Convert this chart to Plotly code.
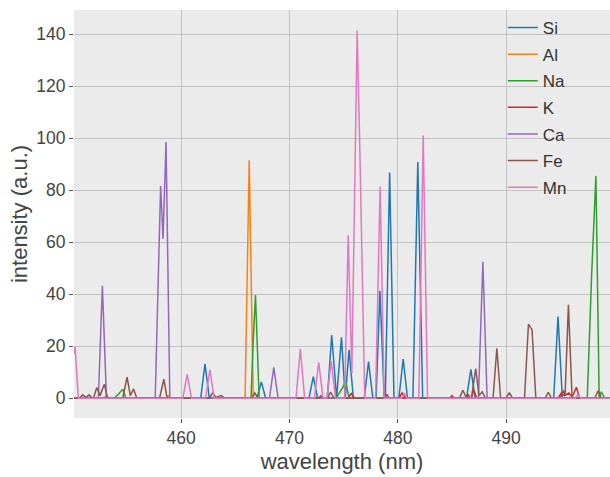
import plotly.graph_objects as go

elements = ["Si", "Al", "Na", "K", "Ca", "Fe", "Mn"]
colors = ["#1f77b4", "#ff7f0e", "#2ca02c", "#d62728", "#9467bd", "#8c564b", "#e377c2"]

# (wavelength nm, intensity a.u.)
si_pts = [(450.1,0),(461.8,0),(462.2,13.2),(462.6,0),
          (467.0,0),(467.4,6.3),(467.8,0),
          (471.8,0),(472.2,8.3),(472.6,0),
          (473.5,0),(473.9,24.3),(474.35,0),(474.8,23.4),(475.15,0),(475.5,18.6),(475.9,0),
          (476.9,0),(477.3,14.1),(477.7,0),
          (478.0,0),(478.35,41.3),(478.75,0),(478.85,0),(479.25,86.8),(479.65,0),
          (480.1,0),(480.5,15.1),(480.9,0),
          (481.4,0),(481.85,90.8),(482.3,0),
          (486.35,0),(486.75,11.1),(487.15,0),
          (494.4,0),(494.8,31.4),(495.2,0),(499.6,0)]
al_pts = [(450.1,0),(458.6,0),(458.8,1),(459.0,0),(465.9,0),(466.28,91.5),(466.65,0),(499.6,0)]
na_pts = [(450.1,0),(453.8,0),(454.2,1.5),(454.6,3.5),(454.9,0),
          (466.45,0),(466.65,22),(466.86,39.7),(467.2,0),
          (474.3,0),(474.9,4),(475.2,6.4),(475.5,0),
          (497.5,0),(497.9,47),(498.3,85.5),(498.6,0),(498.8,2.5),(499.1,0),(499.6,0)]
k_pts = [(450.1,0),(452.9,0),(453.1,0.8),(453.3,0),(475.4,0),(475.7,1.8),(476.0,0),
         (480.1,0),(480.4,2),(480.7,0),(484.8,0),(485.0,1),(485.2,0),(486.3,0),(486.5,1.5),(486.7,0),
         (486.8,0),(487.0,3.2),(487.3,0),(494.8,0),(495.1,2),(495.4,1),(495.8,2),(496.1,0.5),
         (496.5,4.2),(496.8,0),(499.6,0)]
ca_pts = [(450.1,0),(452.35,0),(452.72,43.2),(453.1,0),
          (457.6,0),(458.1,81.6),(458.32,61.3),(458.6,98.5),(458.95,0),
          (468.15,0),(468.55,11.9),(468.95,0),
          (487.45,0),(487.86,52.5),(488.25,0),(499.6,0)]
fe_pts = [(450.1,0),(450.6,0),(450.9,1.3),(451.2,0.3),(451.5,1.3),(451.8,0),
          (451.9,0),(452.2,4.1),(452.5,1),(452.9,5.4),(453.2,0),
          (454.6,0),(455.0,8.1),(455.3,1),(455.6,3.6),(455.9,0),
          (458.0,0),(458.4,7.3),(458.7,0),
          (462.6,0),(462.9,2.1),(463.2,0.3),(463.7,1),(464.0,0),
          (466.5,0),(466.8,2),(467.1,0),(472.7,0),(472.9,1),(473.1,0),
          (473.5,0),(473.8,2.4),(474.1,0),(478.8,0),(479.0,1.5),(479.2,0),
          (485.7,0),(486.0,3.1),(486.3,0.5),(486.8,0),(487.2,11.4),(487.5,1),(487.8,2.5),(488.1,0),
          (488.8,0),(489.15,19.2),(489.5,0),(490.0,0),(490.3,2.2),(490.6,0),
          (491.7,0),(492.07,28.5),(492.4,26.3),(492.75,0),(493.6,0),(493.9,2.3),(494.2,0),
          (495.0,0),(495.3,3),(495.45,1),(495.76,35.9),(496.1,0),
          (498.2,0),(498.5,2.9),(498.8,0),(499.6,0)]
mn_pts = [(450.1,17),(450.2,20),(450.5,0),(460.15,0),(460.55,9.2),(460.95,0),
          (462.25,0),(462.65,10.9),(463.05,0),(470.6,0),(471.0,19),(471.4,0),
          (472.3,0),(472.7,13.8),(473.1,0),(473.45,0),(473.85,14.3),(474.25,0),
          (475.1,0),(475.42,62.7),(475.76,9.6),(476.25,141.4),(476.5,95),(476.95,0),
          (477.95,0),(478.37,81.4),(478.75,0),(480.35,0),(480.6,2),(480.85,0),
          (481.95,0),(482.35,101),(482.75,0),(496.4,0),(496.65,1.5),(496.9,0),(499.6,0)]

series = [si_pts, al_pts, na_pts, k_pts, ca_pts, fe_pts, mn_pts]

x_ticks = [460, 470, 480, 490]
y_ticks = [0, 20, 40, 60, 80, 100, 120, 140]

fig = go.Figure()
for name, col, pts in zip(elements, colors, series):
    fig.add_trace(go.Scatter(
        x=[p[0] for p in pts], y=[p[1] for p in pts], mode="lines", name=name,
        line=dict(color=col, width=1.5), legendgroup=name))

font = "Liberation Sans, Arial, sans-serif"
fig.update_layout(
    width=610, height=477,
    margin=dict(l=74, r=0, t=10, b=59),
    paper_bgcolor="white", plot_bgcolor="#ebebeb",
    font=dict(family=font, size=17, color="#444"),
    showlegend=True,
    legend=dict(x=0.80, y=1.0, xanchor="left", yanchor="top",
                bgcolor="rgba(0,0,0,0)", font=dict(size=17, color="#333"),
                tracegroupgap=1.5, itemwidth=30),
)
fig.update_xaxes(range=[450.1, 499.6], tickvals=x_ticks, ticks="outside", ticklen=4,
                 tickcolor="#555", gridcolor="#c2c2c2", gridwidth=1.2, zeroline=False,
                 showline=False, tickfont=dict(size=17.5),
                 title=dict(text="wavelength (nm)", font=dict(size=22, color="#444"), standoff=6))
fig.update_yaxes(range=[-7.6, 149.3], tickvals=y_ticks, ticks="outside", ticklen=4,
                 tickcolor="#555", gridcolor="#c2c2c2", gridwidth=1.2, zeroline=False,
                 showline=False, tickfont=dict(size=17.5),
                 title=dict(text="intensity (a.u.)", font=dict(size=22, color="#444"), standoff=2))

fig.write_html("out.html")
